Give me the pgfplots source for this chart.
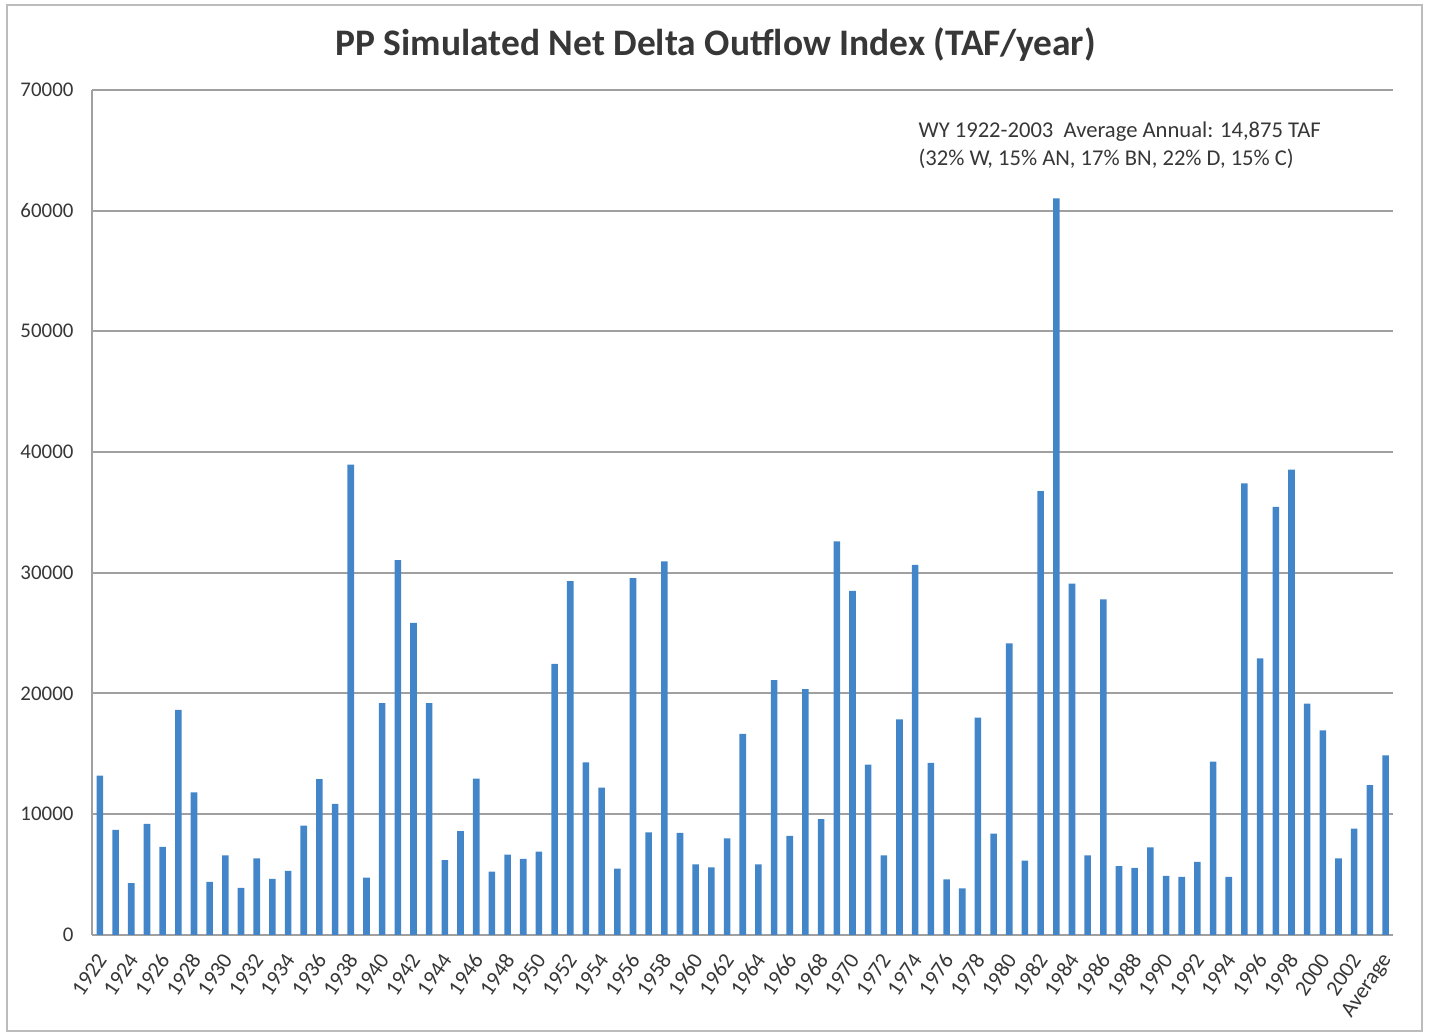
\documentclass[border=0pt]{standalone}
\usepackage{fontspec}
\setmainfont{Carlito}
\usepackage{pgfplots}
\pgfplotsset{compat=1.18}
\definecolor{barblue}{RGB}{66,133,201}
\definecolor{gridgray}{RGB}{160,160,160}
\definecolor{txtgray}{RGB}{55,55,55}
\begin{document}
\begin{tikzpicture}
\useasboundingbox (-32.2pt,-34.3pt) rectangle (467.8pt,326.9pt);
\draw[gridgray!70, line width=0.6pt] (-29.7pt,-33.6pt) rectangle (465.1pt,325.2pt);
\begin{axis}[
  scale only axis,
  width=455pt, height=295.5pt,
  xmin=-0.5, xmax=82.5,
  ymin=0, ymax=70000,
  ytick={0,10000,...,70000},
  scaled y ticks=false,
  /pgf/number format/.cd, 1000 sep={}, assume math mode=true,
  /pgfplots/.cd,
  xtick={0,2,...,82},
  xticklabels={1922,1924,1926,1928,1930,1932,1934,1936,1938,1940,1942,1944,1946,1948,1950,1952,1954,1956,1958,1960,1962,1964,1966,1968,1970,1972,1974,1976,1978,1980,1982,1984,1986,1988,1990,1992,1994,1996,1998,2000,2002,Average},
  xticklabel style={xshift=1.3pt, yshift=-6.4pt, rotate=56, anchor=east, font=\fontsize{7.7}{8}\selectfont, text=txtgray, inner sep=1pt},
  yticklabel style={font=\fontsize{7.3}{8}\selectfont, text=txtgray, xshift=-3pt},
  axis x line*=bottom, axis y line*=left,
  axis line style={gridgray, line width=0.7pt, -},
  major tick length=0pt,
  ymajorgrids, grid style={gridgray, line width=0.7pt},
  ybar, bar width=2.3pt,
  clip=false,
]
\addplot[fill=barblue, draw=none] coordinates {
(0,13200) (1,8700) (2,4300) (3,9200) (4,7300) (5,18650) (6,11800) (7,4400) (8,6600) (9,3900)
(10,6350) (11,4650) (12,5300) (13,9050) (14,12900) (15,10850) (16,38950) (17,4750) (18,19200) (19,31050)
(20,25850) (21,19200) (22,6200) (23,8600) (24,12950) (25,5250) (26,6650) (27,6300) (28,6900) (29,22450)
(30,29300) (31,14300) (32,12200) (33,5500) (34,29550) (35,8500) (36,30950) (37,8450) (38,5850) (39,5600)
(40,8000) (41,16650) (42,5850) (43,21100) (44,8200) (45,20350) (46,9600) (47,32600) (48,28500) (49,14100)
(50,6600) (51,17850) (52,30650) (53,14250) (54,4600) (55,3850) (56,18000) (57,8400) (58,24150) (59,6150)
(60,36750) (61,61000) (62,29100) (63,6600) (64,27800) (65,5700) (66,5550) (67,7250) (68,4900) (69,4800)
(70,6050) (71,14350) (72,4800) (73,37400) (74,22900) (75,35450) (76,38550) (77,19150) (78,16950) (79,6350)
(80,8800) (81,12400) (82,14875)
};
\end{axis}
\node[font=\bfseries\fontsize{13.1}{15}\selectfont, text=txtgray] at (218pt,311.2pt) {PP Simulated Net Delta Outflow Index (TAF/year)};
\node[anchor=west, font=\fontsize{7.9}{9}\selectfont, text=txtgray, inner sep=0pt] at (288.8pt,280.9pt) {WY 1922-2003\ \ Average Annual: 14,875 TAF};
\node[anchor=west, font=\fontsize{7.9}{9}\selectfont, text=txtgray, inner sep=0pt] at (288.8pt,271.2pt) {(32\% W, 15\% AN, 17\% BN, 22\% D, 15\% C)};
\end{tikzpicture}
\end{document}
